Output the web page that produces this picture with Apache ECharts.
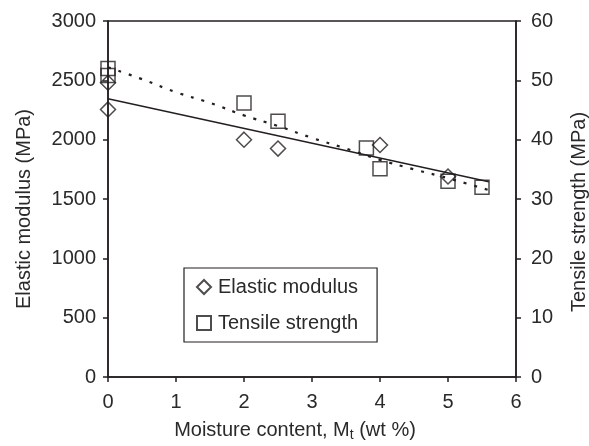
<!DOCTYPE html>
<html>
<head>
<meta charset="utf-8">
<script src="https://cdn.jsdelivr.net/npm/echarts@6/dist/echarts.min.js"></script>
<style>
  html, body { margin: 0; padding: 0; background: #fff; }
  #chart { width: 589px; height: 446px; }
</style>
</head>
<body>
<div id="chart"></div>
<script>
// Measured points: [moisture content (wt %), value]
const elasticModulus = [[0, 2480], [0, 2255], [2, 2000], [2.5, 1925], [4, 1955], [5, 1690]];
const tensileStrength = [[0, 52.0], [0, 50.8], [2, 46.2], [2.5, 43.1], [3.8, 38.6], [4, 35.1], [5, 33.0], [5.5, 32.0]];

// Trend lines
const modulusTrend = [[0, 2345], [5.6, 1645]];
const strengthTrend = [[0, 52.2], [0.5, 50.2], [1, 48.0], [1.5, 46.2], [2, 44.1], [2.5, 42.3], [3, 40.3],
                       [3.5, 38.5], [4, 36.6], [4.5, 35.0], [5, 33.5], [5.6, 31.5]];

const xTicks = [0, 1, 2, 3, 4, 5, 6];
const leftTicks = [0, 500, 1000, 1500, 2000, 2500, 3000];
const rightTicks = [0, 10, 20, 30, 40, 50, 60];

const FONT = '"Liberation Sans", Arial, Helvetica, sans-serif';
const INK = '#231f20';
const TXT = '#2a2a2a';

const chart = echarts.init(document.getElementById('chart'), null, { renderer: 'canvas' });

const plain = v => String(v);

const axisCommon = {
  axisLine: { show: true, lineStyle: { color: INK, width: 1.5 } },
  axisTick: { show: true, inside: false, length: 5, lineStyle: { color: INK, width: 1.5 } },
  splitLine: { show: false },
  axisLabel: { fontFamily: FONT, fontSize: 20, color: TXT, formatter: plain }
};

chart.setOption({
  animation: false,
  backgroundColor: '#fff',
  grid: {
    left: 108, right: 73, top: 21, bottom: 69,
    show: true, borderColor: INK, borderWidth: 1.5, backgroundColor: 'transparent'
  },
  xAxis: Object.assign({}, axisCommon, {
    type: 'value',
    min: xTicks[0], max: xTicks[xTicks.length - 1], interval: 1,
    axisLabel: Object.assign({}, axisCommon.axisLabel, { margin: 15 })
  }),
  yAxis: [
    Object.assign({}, axisCommon, {
      type: 'value', position: 'left',
      min: leftTicks[0], max: leftTicks[leftTicks.length - 1], interval: 500,
      axisLabel: Object.assign({}, axisCommon.axisLabel, { margin: 12 })
    }),
    Object.assign({}, axisCommon, {
      type: 'value', position: 'right',
      min: rightTicks[0], max: rightTicks[rightTicks.length - 1], interval: 10,
      axisLabel: Object.assign({}, axisCommon.axisLabel, { margin: 15 })
    })
  ],
  legend: {
    data: ['Elastic modulus', 'Tensile strength'],
    orient: 'vertical',
    left: 184, top: 268,
    padding: [9, 19, 9, 12],
    itemGap: 16,
    itemWidth: 14, itemHeight: 14,
    borderColor: INK, borderWidth: 1.2,
    backgroundColor: '#fff',
    selectedMode: false,
    textStyle: { fontFamily: FONT, fontSize: 20, color: TXT, padding: [0, 0, 0, 2] }
  },
  series: [
    {
      name: 'modulus trend', type: 'line', yAxisIndex: 0,
      data: modulusTrend, showSymbol: false, symbol: 'none', silent: true,
      lineStyle: { color: INK, width: 1.4, type: 'solid' }, z: 2
    },
    {
      name: 'strength trend', type: 'line', yAxisIndex: 1,
      data: strengthTrend, smooth: true, showSymbol: false, symbol: 'none', silent: true,
      lineStyle: { color: INK, width: 2.2, type: [3, 8] }, z: 2
    },
    {
      name: 'Elastic modulus', type: 'scatter', yAxisIndex: 0,
      data: elasticModulus, symbol: 'diamond', symbolSize: 15,
      itemStyle: { color: 'rgba(255,255,255,0)', borderColor: INK, borderWidth: 1.5 }, z: 3
    },
    {
      name: 'Tensile strength', type: 'scatter', yAxisIndex: 1,
      data: tensileStrength, symbol: 'rect', symbolSize: 14,
      itemStyle: { color: 'rgba(255,255,255,0)', borderColor: INK, borderWidth: 1.5 }, z: 3
    }
  ],
  graphic: [
    {
      type: 'text', x: 24, y: 209, rotation: Math.PI / 2,
      style: { text: 'Elastic modulus (MPa)', fontFamily: FONT, fontSize: 20, fill: TXT, align: 'center', verticalAlign: 'middle' }
    },
    {
      type: 'text', x: 579, y: 212, rotation: Math.PI / 2,
      style: { text: 'Tensile strength (MPa)', fontFamily: FONT, fontSize: 20, fill: TXT, align: 'center', verticalAlign: 'middle' }
    },
    {
      type: 'text', x: 295, y: 430,
      style: {
        text: '{a|Moisture content, M}{s|t}{a| (wt %)}',
        align: 'center', verticalAlign: 'middle',
        rich: {
          a: { fontFamily: FONT, fontSize: 20, lineHeight: 24, fill: TXT, color: TXT },
          s: { fontFamily: FONT, fontSize: 14, lineHeight: 14, padding: [10, 0, 0, 0], fill: TXT, color: TXT }
        }
      }
    }
  ]
});
</script>
</body>
</html>
